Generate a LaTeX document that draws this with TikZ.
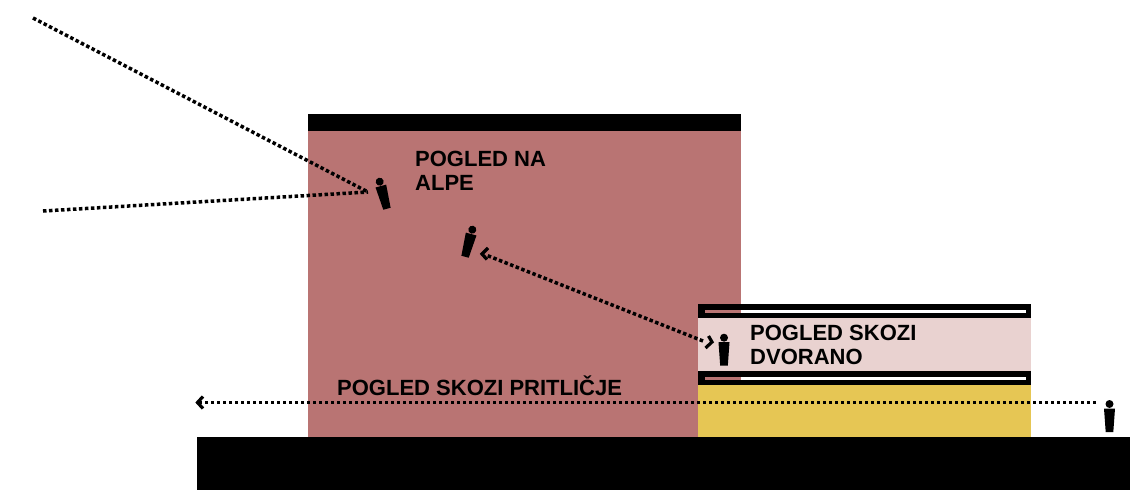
\documentclass[tikz,border=0pt]{standalone}
\usepackage{fontspec}
\setmainfont{Liberation Sans}
\definecolor{hallred}{HTML}{B97473}
\definecolor{hallpink}{HTML}{E9D2D0}
\definecolor{hallyellow}{HTML}{E6C654}
\tikzset{
	sightline/.style={line width=3.5pt, dash pattern=on 3.5pt off 2.5pt},
	chevron/.style={line width=3.2pt, miter limit=10},
	viewlabel/.style={anchor=base west, inner sep=0pt, align=left, font=\fontsize{22}{24}\selectfont\bfseries},
	person/.pic={
		\fill (0,0) circle (4);
		\fill (-5.5,4.5) -- (5.5,4.5) -- (3.8,28) -- (-3.8,28) -- cycle;
	}
}
\begin{document}
\begin{tikzpicture}[x=1pt, y=-1pt]
	\useasboundingbox (0,0) rectangle (1130,490);
	% Volumes
	\fill[hallred] (308,131) rectangle (741,437);
	\fill[hallyellow] (698,385) rectangle (1031,437);
	\fill[hallpink] (698,318) rectangle (1031,372);
	% Slabs
	\fill (308,114) rectangle (741,131);
	\fill (698,304) rectangle (1031,318);
	\fill (698,371) rectangle (1031,385);
	\fill[white] (741,309.5) rectangle (1026,312.5);
	\fill[white] (741,376.5) rectangle (1026,379.5);
	\fill[hallred] (705,309.5) rectangle (741,312.5);
	\fill[hallred] (705,376.5) rectangle (741,379.5);
	% Ground
	\fill (197,437) rectangle (1130,490);
	% People
	\pic[rotate=15] at (379.7,181.7) {person};
	\pic[rotate=-15] at (472.3,229.7) {person};
	\pic at (724,337.7) {person};
	\pic at (1109.5,404) {person};
	% Sight lines
	\coordinate (alpsfar) at (33,18);
	\coordinate (alpsnear) at (43,211);
	\coordinate (alpseye) at (368,192);
	\coordinate (halleye) at (703,341);
	\coordinate (hallend) at (486,255);
	\coordinate (groundeye) at (1096,402.7);
	\coordinate (groundend) at (200,402.7);
	\draw[sightline] (alpsfar) -- (alpseye);
	\draw[sightline] (alpsnear) -- (alpseye);
	\draw[sightline] (halleye) -- (hallend);
	\draw[sightline] (groundeye) -- (groundend);
	% Arrow heads
	\draw[chevron] (488,248) -- (482,254) -- (487,259.5);
	\draw[chevron] (708.5,336) -- (712,342) -- (705.5,348);
	\draw[chevron] (203,396.5) -- (197.5,402.5) -- (203,408.5);
	% Labels
	\node[viewlabel] (alpelabel) at (415,190.5) {POGLED NA\\ALPE};
	\node[viewlabel] (halllabel) at (750,364.5) {POGLED SKOZI\\DVORANO};
	\node[viewlabel] (groundlabel) at (337,395) {POGLED SKOZI PRITLIČJE};
\end{tikzpicture}
\end{document}
